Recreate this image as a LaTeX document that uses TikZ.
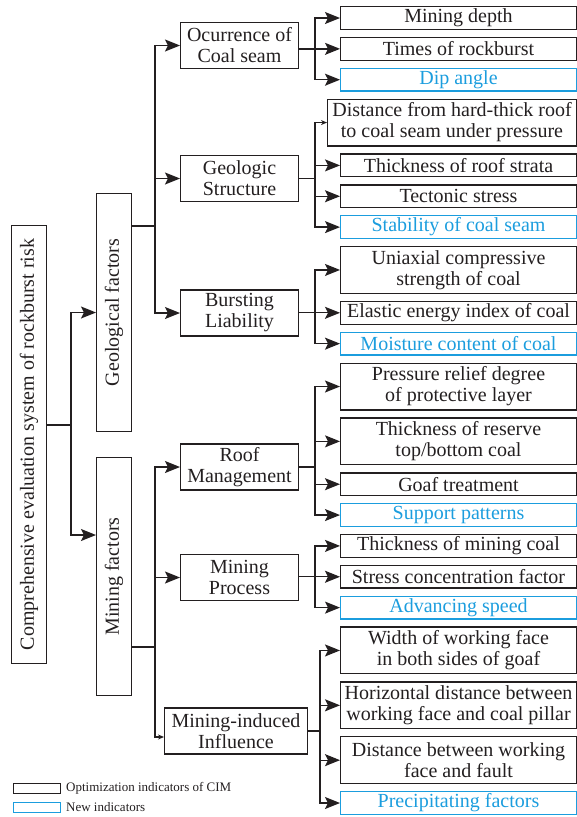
\documentclass[tikz,border=0pt]{standalone}
\usepackage{fontspec}
\setmainfont{Liberation Serif}
\usepackage{graphicx}
\usepackage{xcolor}
\usetikzlibrary{arrows.meta,positioning}
\definecolor{ink}{RGB}{35,31,32}
\definecolor{newblue}{RGB}{27,157,222}

\begin{document}
\begin{tikzpicture}[x=1pt,y=-1pt,font=\fontsize{20}{21}\selectfont,every node/.append style={text=ink},
box/.style={rectangle,draw=ink,line width=1.3pt,align=center,inner sep=1pt},
leaf/.style={box,minimum width=235.7pt,minimum height=22.7pt,anchor=north west},
leafii/.style={leaf,minimum height=46.7pt},
newleaf/.style={leaf,draw=newblue,text=newblue},
factor/.style={box,minimum width=117.7pt,minimum height=46pt},
link/.style={draw=ink,line width=1.3pt},
arr/.style={link,-{Stealth[length=15pt,width=12pt,inset=3pt]}},
smallarr/.style={link,-{Stealth[length=6pt,width=5pt]}},
legend/.style={rectangle,line width=1pt,minimum width=47pt,minimum height=10pt,inner sep=0pt}]

\useasboundingbox (0,0) rectangle (577,817);

\node[box, minimum width=34.7pt, minimum height=437.7pt](root) at (29,444.5){\rotatebox{90}{Comprehensive evaluation system of rockburst risk}};
\node[box, minimum width=34.7pt, minimum height=237.7pt](geo) at (114,312.5){\rotatebox{90}{Geological factors}};
\node[box, minimum width=34.7pt, minimum height=237.7pt](mine) at (114,576.5){\rotatebox{90}{Mining factors}};

\node[factor](occur) at (239.5,45.5){Ocurrence of\\Coal seam};
\node[factor](geostr) at (239.5,178.5){Geologic\\Structure};
\node[factor](burst) at (239.5,313){Bursting\\Liability};
\node[factor](roof) at (239.5,467){Roof\\Management};
\node[factor](process) at (239.5,577.5){Mining\\Process};
\node[factor, minimum width=142.7pt](induced) at (236,731){Mining-induced\\Influence};

\node[leaf](depth) at (340,6){Mining depth};
\node[leaf, below=6.85pt of depth](times){Times of rockburst};
\node[newleaf, below=6.85pt of times](dip){Dip angle};
\node[leafii, minimum width=248.7pt, below=6.85pt of dip, xshift=-6.5pt](dist){Distance from hard-thick roof\\to coal seam under pressure};
\node[leaf, below=6.85pt of dist, xshift=6.5pt](roofstrata){Thickness of roof strata};
\node[leaf, below=6.85pt of roofstrata](tectonic){Tectonic stress};
\node[newleaf, below=6.85pt of tectonic](stability){Stability of coal seam};
\node[leafii, below=6.85pt of stability](uniaxial){Uniaxial compressive\\strength of coal};
\node[leaf, below=6.85pt of uniaxial](elastic){Elastic energy index of coal};
\node[newleaf, below=6.85pt of elastic](moisture){Moisture content of coal};
\node[leafii, below=6.85pt of moisture](relief){Pressure relief degree\\of protective layer};
\node[leafii, below=6.85pt of relief](reserve){Thickness of reserve\\top/bottom coal};
\node[leaf, below=6.85pt of reserve](goaf){Goaf treatment};
\node[newleaf, below=6.85pt of goaf](support){Support patterns};
\node[leaf, below=6.85pt of support](thickcoal){Thickness of mining coal};
\node[leaf, below=6.85pt of thickcoal](stress){Stress concentration factor};
\node[newleaf, below=6.85pt of stress](advance){Advancing speed};
\node[leafii, below=6.85pt of advance](width){Width of working face\\in both sides of goaf};
\node[leafii, below=6.85pt of width](horizontal){Horizontal distance between\\working face and coal pillar};
\node[leafii, below=6.85pt of horizontal](faultdist){Distance between working\\face and fault};
\node[newleaf, below=6.85pt of faultdist](precip){Precipitating factors};

\coordinate (rootout) at ([yshift=-200pt]root.north east);
\coordinate (rootbus) at ([xshift=24pt]rootout);
\coordinate (minein) at ([yshift=-78pt]mine.north west);
\draw[arr] (rootout) -- (rootbus) |- (geo.west);
\draw[arr] (rootbus) |- (minein);

\coordinate (geoout) at ([yshift=-33pt]geo.north east);
\coordinate (geobus) at ([xshift=23pt]geoout);
\draw[arr] (geoout) -- (geobus) |- (occur.west);
\draw[arr] (geobus) |- (geostr.west);
\draw[arr] (geobus) |- (burst.west);

\coordinate (mineout) at ([yshift=-190pt]mine.north east);
\coordinate (minebus) at ([xshift=23pt]mineout);
\draw[arr] (mineout) -- (minebus) |- (roof.west);
\draw[arr] (minebus) |- (process.west);
\draw[smallarr] (minebus) |- ([yshift=-6pt]induced.west);

\path (occur.east |- times.west) ++(16,0) coordinate (occbus);
\draw[link] (occur.east |- times.west) -- (occbus);
\foreach \item in {depth,times,dip} \draw[arr] (occbus) |- (\item.west);

\path (geostr.east) ++(16,0) coordinate (gsbus);
\draw[link] (geostr.east) -- (gsbus);
\draw[smallarr] (gsbus) |- (dist.west);
\foreach \item in {roofstrata,tectonic,stability} \draw[arr] (gsbus) |- (\item.west);

\path (burst.east |- elastic.west) ++(16,0) coordinate (bubus);
\draw[link] (burst.east |- elastic.west) -- (bubus);
\foreach \item in {uniaxial,elastic,moisture} \draw[arr] (bubus) |- (\item.west);

\path (roof.east) ++(16,0) coordinate (rfbus);
\draw[link] (roof.east) -- (rfbus);
\foreach \item in {relief,reserve,goaf,support} \draw[arr] (rfbus) |- (\item.west);

\path (process.east |- stress.west) ++(16,0) coordinate (prbus);
\draw[link] (process.east |- stress.west) -- (prbus);
\foreach \item in {thickcoal,stress,advance} \draw[arr] (prbus) |- (\item.west);

\path (induced.east) ++(12,0) coordinate (inbus);
\draw[link] (induced.east) -- (inbus);
\foreach \item in {width,horizontal,faultdist,precip} \draw[arr] (inbus) |- (\item.west);

\node[legend, draw=ink](legold) at (37,788.5){};
\node[right=5pt of legold, inner sep=0pt, font=\fontsize{13}{13}\selectfont](legoldtext){Optimization indicators of CIM};
\node[legend, draw=newblue](legnew) at (37,807){};
\node[right=5pt of legnew, inner sep=0pt, font=\fontsize{13}{13}\selectfont](legnewtext){New indicators};

\end{tikzpicture}
\end{document}
